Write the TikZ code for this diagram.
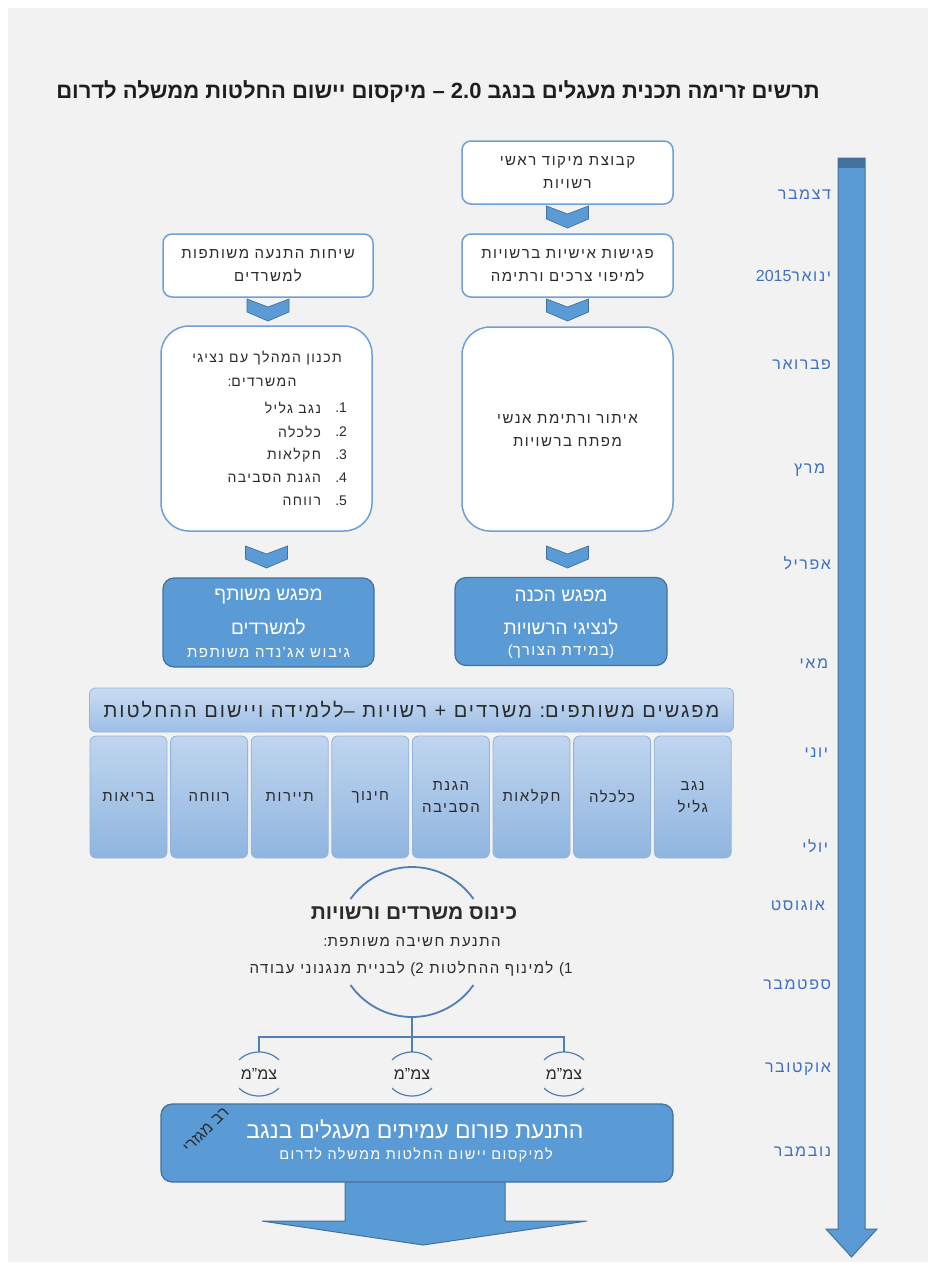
\documentclass[tikz,border=0pt]{standalone}
\usepackage{fontspec}
\setmainfont[Script=Hebrew]{Liberation Sans}
\newfontfamily\lat{Liberation Sans}
\newfontfamily\hsp[Script=Hebrew,LetterSpace=10]{Liberation Sans}
\TeXXeTstate=1
\usetikzlibrary{calc}
\definecolor{bggray}{HTML}{F2F2F2}
\definecolor{boxline}{HTML}{6E9FD6}
\definecolor{midblue}{HTML}{5B9BD5}
\definecolor{darkline}{HTML}{41719C}
\definecolor{monthblue}{HTML}{3F6FC0}
\definecolor{circline}{HTML}{4F7FB5}
\definecolor{titlecol}{HTML}{1E1E1E}
\definecolor{textdark}{HTML}{2B2B2B}
\definecolor{bantop}{HTML}{CADCF2}
\definecolor{banbot}{HTML}{9DBFE6}
\definecolor{banline}{HTML}{93B3DA}
\definecolor{coltop}{HTML}{C0D5EF}
\definecolor{colbot}{HTML}{8FB5E0}
\newcommand\fs[2]{\fontsize{#1}{#2}\selectfont}
\newcommand\hb[1]{\beginR#1\endR}
\newcommand\lt[1]{\mbox{\lat #1}}
\tikzset{
  every node/.style={inner sep=0pt, outer sep=0pt},
  wbox/.style={draw=boxline, line width=1.5pt, fill=white, rounded corners=9pt, align=center, font=\hsp\fs{15}{23}, text=textdark},
  bigbox/.style={wbox, rounded corners=28pt},
  dbox/.style={draw=darkline, line width=1.2pt, fill=midblue, rounded corners=11pt},
  dtext/.style={text=white, font=\fs{19}{22}},
  dsub/.style={text=white, font=\hsp\fs{15}{18}},
  month/.style={anchor=east, font=\hsp\fs{16}{18}, text=monthblue},
  ltext/.style={font=\hsp\fs{14}{17}, text=textdark},
  banner/.style={draw=banline, line width=0.8pt, top color=bantop, bottom color=banbot, rounded corners=6pt, font=\hsp\fs{20}{22}, text=textdark},
  colbox/.style={draw=banline, line width=0.8pt, top color=coltop, bottom color=colbot, rounded corners=6pt, align=center, font=\hsp\fs{15}{22}, text=textdark},
  cline/.style={draw=circline, line width=1.8pt},
  ktext/.style={font=\hsp\fs{15}{17}, text=textdark},
  chev/.pic={\filldraw[fill=midblue, draw=darkline, line width=0.7pt] (-21,0) -- (0,8) -- (21,0) -- (21,13) -- (0,22) -- (-21,13) -- cycle;}
}
\begin{document}
\begin{tikzpicture}[x=1pt,y=-1pt]
\useasboundingbox (0,0) rectangle (934,1269);
\fill[white] (0,0) rectangle (934,1269);
\fill[bggray] (8,8) rectangle (928,1262);

% title
\node[font=\bfseries\fs{22}{24}, text=titlecol] (title) at (438,92) {\hb{תרשים זרימה תכנית מעגלים בנגב \lt{2.0} \lt{–} מיקסום יישום החלטות ממשלה לדרום}};

% timeline
\filldraw[fill=midblue, draw=darkline, line width=1pt] (838,158) -- (865,158) -- (865,1229) -- (877,1229) -- (851.5,1257) -- (826,1229) -- (838,1229) -- cycle;
\fill[darkline] (838,158) rectangle (865,168);
\node[month] (m1) at (831,195) {דצמבר};
\node[month] (m2) at (831,276) {\hb{ינואר\lt{2015}}};
\node[month] (m3) at (831,365) {פברואר};
\node[month] (m4) at (825,470) {מרץ};
\node[month] (m5) at (831,563) {אפריל};
\node[month] (m6) at (828,664) {מאי};
\node[month] (m7) at (828,753) {יוני};
\node[month] (m8) at (828,846) {יולי};
\node[month] (m9) at (825,906) {אוגוסט};
\node[month] (m10) at (831,985) {ספטמבר};
\node[month] (m11) at (831,1069) {אוקטובר};
\node[month] (m12) at (831,1152) {נובמבר};

% right column
\node[wbox, minimum width=211pt, minimum height=63pt] (focus) at (567.5,172.5) {\hb{קבוצת מיקוד ראשי}\\\hb{רשויות}};
\node[wbox, minimum width=211pt, minimum height=63pt] (personal) at (567.5,265.5) {\hb{פגישות אישיות ברשויות}\\\hb{למיפוי צרכים ורתימה}};
\node[bigbox, minimum width=211pt, minimum height=204pt] (locate) at (567.5,429) {};
\node[wbox, draw=none, fill=none] (locatetext) at (567.5,430) {\hb{איתור ורתימת אנשי}\\\hb{מפתח ברשויות}};
\node[dbox, minimum width=212pt, minimum height=88pt] (prep) at (561,621.5) {};
\node[dtext] (prep1) at (561,596) {\hb{מפגש הכנה}};
\node[dtext] (prep2) at (561,627) {\hb{לנציגי הרשויות}};
\node[dsub] (prep3) at (561,652) {\hb{\lt{)}במידת הצורך\lt{(}}};
\pic at ([yshift=-2pt]focus.south) {chev};
\pic at ([yshift=-2pt]personal.south) {chev};
\pic at ([yshift=-15pt]locate.south) {chev};

% left column
\node[wbox, minimum width=210pt, minimum height=63pt] (calls) at (268,265.5) {\hb{שיחות התנעה משותפות}\\\hb{למשרדים}};
\node[bigbox, minimum width=211pt, minimum height=205pt] (plan) at (266.5,428.5) {};
\node[ltext] (pl1) at (267,358) {\hb{תכנון המהלך עם נציגי}};
\node[ltext] (pl2) at (262,382) {\hb{המשרדים\lt{:}}};
\foreach \k/\y/\t in {1/408/{נגב גליל},2/432/{כלכלה},3/455/{חקלאות},4/478/{הגנת הסביבה},5/501/{רווחה}}{
  \node[ltext, anchor=east] (pli\k) at (321,\y) {\hb{\t}};
  \node[ltext, anchor=east] (pln\k) at (347,\y) {\lt{.\k}};
}
\node[dbox, minimum width=211pt, minimum height=89pt] (joint) at (268.5,622.5) {};
\node[dtext] (joint1) at (268.5,596) {\hb{מפגש משותף}};
\node[dtext] (joint2) at (268.5,627) {\hb{למשרדים}};
\node[dsub] (joint3) at (268.5,652) {\hb{גיבוש אג'נדה משותפת}};
\pic at ([yshift=-2pt]calls.south) {chev};
\pic at ([yshift=-15pt]plan.south) {chev};

% banner and columns
\node[banner, minimum width=644pt, minimum height=44pt] (banner) at (411.5,710) {\hb{מפגשים משותפים\lt{:} משרדים \lt{+} רשויות \lt{–}ללמידה ויישום ההחלטות}};
\foreach \i/\t in {0/{בריאות},1/{רווחה},2/{תיירות},3/{חינוך},4/{הגנת\\הסביבה},5/{חקלאות},6/{כלכלה},7/{נגב\\גליל}}{
  \node[colbox, minimum width=77pt, minimum height=122pt] (col\i) at ({128.5+\i*80.6},797) {\t};
}

% kinus circle
\node[circle, minimum size=150pt] (kinus) at (412,942) {};
\draw[cline] (kinus.center) ++(35:75pt) arc[start angle=35, end angle=145, radius=75pt];
\draw[cline] (kinus.center) ++(215:75pt) arc[start angle=215, end angle=325, radius=75pt];
\node[font=\bfseries\fs{21}{23}, text=textdark] (kinust) at (414,913) {\hb{כינוס משרדים ורשויות}};
\node[ktext] (kinuss) at (412,942) {\hb{התנעת חשיבה משותפת\lt{:}}};
\node[ktext] (kinusg) at (411,969) {\hb{\lt{(1} למינוף ההחלטות \lt{(2} לבניית מנגנוני עבודה}};

% tsamam circles
\foreach \n/\x in {zm1/259,zm2/412,zm3/564}{
  \node[circle, minimum size=44pt, font=\fs{16}{18}, text=textdark] (\n) at (\x,1074) {צמ"מ};
  \draw[cline, line width=1.2pt] (\n.center) ++(40:26pt and 22pt) arc[start angle=40, end angle=140, x radius=26pt, y radius=22pt];
  \draw[cline, line width=1.2pt] (\n.center) ++(220:26pt and 22pt) arc[start angle=220, end angle=320, x radius=26pt, y radius=22pt];
}
\coordinate (junc) at (412,1037);
\draw[cline] (kinus.south) -- (junc);
\draw[cline] (zm1.north) -- (zm1.north |- junc) -- (zm3.north |- junc) -- (zm3.north);
\draw[cline] (junc) -- (zm2.north);

% bottom
\filldraw[fill=midblue, draw=darkline, line width=1pt] (345,1175) -- (505,1175) -- (505,1221) -- (587,1221) -- (423,1245) -- (262,1221) -- (345,1221) -- cycle;
\node[dbox, minimum width=512pt, minimum height=78pt] (forum) at (417,1143) {};
\node[text=white, font=\fs{23}{26}] (forum1) at (415,1129) {\hb{התנעת פורום עמיתים מעגלים בנגב}};
\node[text=white, font=\hsp\fs{14.5}{17}] (forum2) at (416,1155) {\hb{למיקסום יישום החלטות ממשלה לדרום}};
\node[rotate=45, font=\fs{16}{18}, text=textdark] (multisec) at (206,1130) {\hb{רב מגזרי}};
\end{tikzpicture}
\end{document}
